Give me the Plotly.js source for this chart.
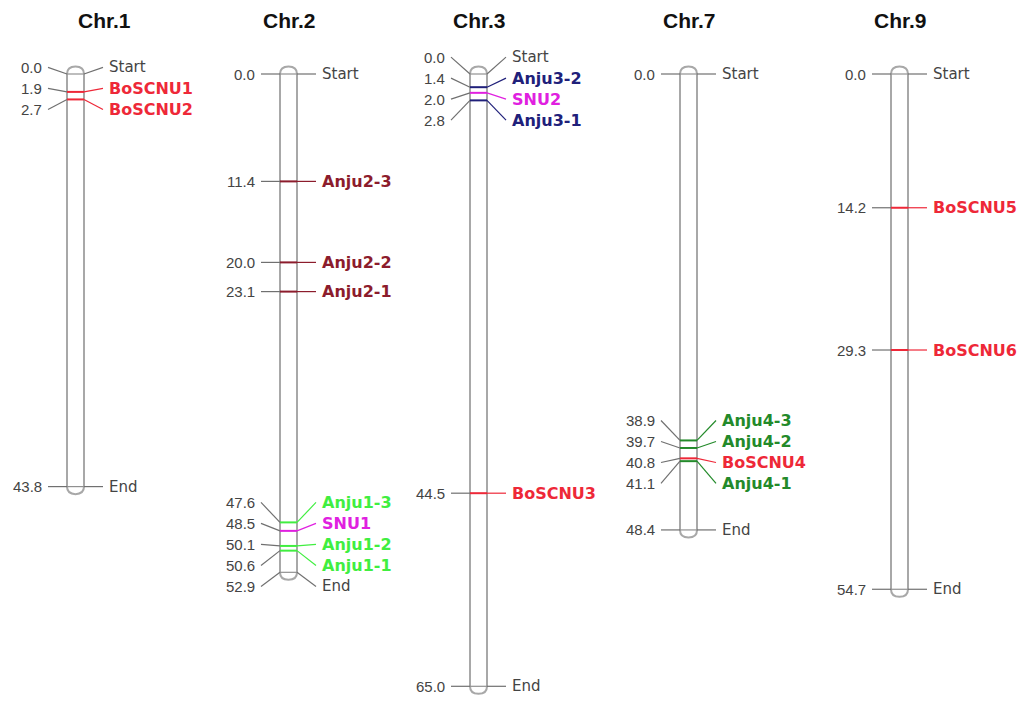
<!DOCTYPE html>
<html>
<head>
<meta charset="utf-8">
<script src="https://cdn.plot.ly/plotly-3.0.1.min.js"></script>
<style>html,body{margin:0;padding:0;background:#fff;}#chart{width:1021px;height:701px;}</style>
</head>
<body>
<div id="chart"></div>
<script>
// ---- data ----
const chromosomes = ["Chr.1", "Chr.2", "Chr.3", "Chr.7", "Chr.9"];
const chrLengths  = [43.8, 52.9, 65.0, 48.4, 54.7];

const chr1Markers = ["BoSCNU1", "BoSCNU2"];
const chr1Pos     = [1.9, 2.7];
const chr2Markers = ["Anju2-3", "Anju2-2", "Anju2-1", "Anju1-3", "SNU1", "Anju1-2", "Anju1-1"];
const chr2Pos     = [11.4, 20.0, 23.1, 47.6, 48.5, 50.1, 50.6];
const chr3Markers = ["Anju3-2", "SNU2", "Anju3-1", "BoSCNU3"];
const chr3Pos     = [1.4, 2.0, 2.8, 44.5];
const chr7Markers = ["Anju4-3", "Anju4-2", "BoSCNU4", "Anju4-1"];
const chr7Pos     = [38.9, 39.7, 40.8, 41.1];
const chr9Markers = ["BoSCNU5", "BoSCNU6"];
const chr9Pos     = [14.2, 29.3];

const markerSets = [
  [chr1Markers, chr1Pos], [chr2Markers, chr2Pos], [chr3Markers, chr3Pos],
  [chr7Markers, chr7Pos], [chr9Markers, chr9Pos]
];

// ---- style / layout ----
const chrCenters = [75.5, 288.5, 478.5, 688.5, 899.5];   // x positions (pixel-based x axis)
const titleCenters = [104, 289, 479, 689, 900];
const HW = 8.5;        // half width of chromosome bar
const LINK = 19;       // horizontal span of connector lines
const GAP = 4;         // gap between connector and text
const PX_PER_CM = 9.42;
const Y0PX = 74;       // pixel row of 0 cM
const H = 701, W = 1021;
const SPACING = 21 / PX_PER_CM;  // min label spacing in cM
const CAP = 0.8;

const familyColor = {
  "BoSCNU": "#ee2838",
  "Anju2": "#8c1c2c",
  "Anju3": "#20207a",
  "SNU":   "#e020e0",
  "Anju1": "#40ee40",
  "Anju4": "#238a2a",
  "edge":  "#555555"
};
function colorFor(name) {
  if (name === "Start" || name === "End") return familyColor.edge;
  if (name.startsWith("BoSCNU")) return familyColor.BoSCNU;
  if (name.startsWith("SNU")) return familyColor.SNU;
  return familyColor[name.slice(0, 5)] || "#000";
}

function spread(positions) {
  let groups = positions.map(p => ({items: [p], center: p}));
  let changed = true;
  while (changed) {
    changed = false;
    for (let i = 0; i < groups.length - 1; i++) {
      const a = groups[i], b = groups[i + 1];
      const aBottom = a.center + (a.items.length - 1) / 2 * SPACING;
      const bTop = b.center - (b.items.length - 1) / 2 * SPACING;
      if (bTop - aBottom < SPACING - 1e-9) {
        const items = a.items.concat(b.items);
        const c = items.reduce((s, v) => s + v, 0) / items.length;
        groups.splice(i, 2, {items: items, center: c});
        changed = true;
        break;
      }
    }
  }
  const out = [];
  groups.forEach(g => {
    const n = g.items.length;
    g.items.forEach((_, k) => out.push(g.center + (k - (n - 1) / 2) * SPACING));
  });
  return out;
}

const traces = [];
const shapes = [];
const annotations = [];
const numFont = "Liberation Sans, Arial, sans-serif";
const nameFont = "DejaVu Sans, sans-serif";
const titleFont = "Liberation Sans, Arial, sans-serif";

chromosomes.forEach((chr, ci) => {
  const cx = chrCenters[ci];
  const len = chrLengths[ci];
  const [names, pos] = markerSets[ci];
  const entries = [{name: "Start", pos: 0}]
    .concat(names.map((n, k) => ({name: n, pos: pos[k]})))
    .concat([{name: "End", pos: len}])
    .sort((a, b) => a.pos - b.pos);
  const labelY = spread(entries.map(e => e.pos));

  // chromosome body
  const xl = cx - HW, xr = cx + HW;
  shapes.push({
    type: "path", xref: "x", yref: "y", layer: "below",
    path: `M ${xl},${len} L ${xl},0 Q ${xl},${-CAP} ${cx},${-CAP} Q ${xr},${-CAP} ${xr},0 ` +
          `L ${xr},${len} Q ${xr},${len + CAP} ${cx},${len + CAP} Q ${xl},${len + CAP} ${xl},${len} Z`,
    line: {color: "#a8a8a8", width: 2}, fillcolor: "#ffffff"
  });

  entries.forEach((e, k) => {
    const ly = labelY[k];
    const col = colorFor(e.name);
    const isEdge = e.name === "Start" || e.name === "End";
    traces.push({
      x: [xl - LINK, xl], y: [ly, e.pos], mode: "lines", hoverinfo: "skip",
      line: {color: "#707070", width: 1.2}, showlegend: false
    });
    traces.push({
      x: [xl, xr], y: [e.pos, e.pos], mode: "lines", hoverinfo: "skip",
      line: {color: isEdge ? "#909090" : col, width: isEdge ? 1.2 : 2}, showlegend: false
    });
    traces.push({
      x: [xr, xr + LINK], y: [e.pos, ly], mode: "lines", hoverinfo: "skip",
      line: {color: isEdge ? "#707070" : col, width: 1.2}, showlegend: false
    });
    annotations.push({
      x: xl - LINK - GAP, y: ly, xref: "x", yref: "y", showarrow: false,
      text: e.pos.toFixed(1), xanchor: "right", yanchor: "middle",
      font: {family: numFont, size: 15, color: "#444444"}
    });
    annotations.push({
      x: xr + LINK + GAP, y: ly, xref: "x", yref: "y", showarrow: false,
      text: isEdge ? e.name : "<b>" + e.name + "</b>", xanchor: "left", yanchor: "middle",
      font: {family: nameFont, size: isEdge ? 15 : 16, color: isEdge ? "#444444" : col}
    });
  });

  annotations.push({
    x: titleCenters[ci], y: (20 - Y0PX) / PX_PER_CM, xref: "x", yref: "y", showarrow: false,
    text: "<b>" + chr + "</b>", xanchor: "center", yanchor: "middle",
    font: {family: titleFont, size: 21, color: "#111111"}
  });
});

const layout = {
  width: W, height: H,
  margin: {l: 0, r: 0, t: 0, b: 0},
  paper_bgcolor: "#ffffff", plot_bgcolor: "#ffffff",
  showlegend: false,
  xaxis: {range: [0, W], visible: false, fixedrange: true},
  yaxis: {range: [(H - Y0PX) / PX_PER_CM, -Y0PX / PX_PER_CM], visible: false, fixedrange: true},
  shapes: shapes,
  annotations: annotations
};

Plotly.newPlot("chart", traces, layout, {displayModeBar: false, staticPlot: true});
</script>
</body>
</html>
